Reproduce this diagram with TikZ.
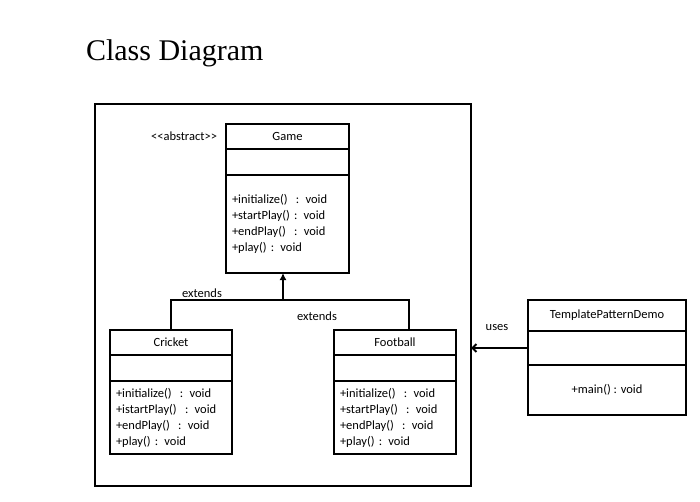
\documentclass[tikz,border=0pt]{standalone}
\usepackage{fontspec}
\setmainfont{Liberation Serif}
\newfontfamily\umlfont{Carlito}
\usetikzlibrary{positioning,arrows.meta}

\begin{document}
\begin{tikzpicture}[x=1pt,y=-1pt,
  every node/.style={font=\umlfont\fontsize{12.5}{16}\selectfont,inner sep=0pt,outer sep=0pt},
  classbox/.style={draw,line width=2pt,minimum width=#1},
  namebox/.style={classbox=#1,minimum height=25pt},
  attrbox/.style={classbox=#1,minimum height=26pt},
  opbox/.style={classbox=#1,inner xsep=6pt,text width=#1-12pt,align=left},
  link/.style={draw,line width=2pt}
  ]
  \useasboundingbox (0,0) rectangle (700,502);
  \node[font=\fontsize{30}{36}\selectfont,anchor=base west] (title) at (86,61) {Class Diagram};
  \node[draw,line width=2pt,minimum width=376pt,minimum height=382pt] (frame) at (283,295) {};

  \node[namebox=123pt] (game) at (287.5,136.5) {Game};
  \node[attrbox=123pt,below=0pt of game] (game_attr) {};
  \node[opbox=123pt,minimum height=98pt,below=0pt of game_attr] (game_ops)
    {+initialize()\ \ : void\\+startPlay() : void\\+endPlay()\ \ : void\\+play() : void};
  \node[left=9pt of game] (abstract) {<<abstract>>};

  \node[namebox=122pt] (cricket) at (171,342.5) {Cricket};
  \node[attrbox=122pt,below=0pt of cricket] (cricket_attr) {};
  \node[opbox=122pt,minimum height=73pt,below=0pt of cricket_attr] (cricket_ops)
    {+initialize()\ \ : void\\+istartPlay()\ \ : void\\+endPlay()\ \ : void\\+play() : void};

  \node[namebox=122pt] (football) at (395,342.5) {Football};
  \node[attrbox=122pt,below=0pt of football] (football_attr) {};
  \node[opbox=122pt,minimum height=73pt,below=0pt of football_attr] (football_ops)
    {+initialize()\ \ : void\\+startPlay()\ \ : void\\+endPlay()\ \ : void\\+play() : void};

  \node[classbox=158pt,minimum height=31pt] (demo) at (607,315.5) {TemplatePatternDemo};
  \node[classbox=158pt,minimum height=34pt,below=0pt of demo] (demo_attr) {};
  \node[classbox=158pt,minimum height=50pt,below=0pt of demo_attr] (demo_ops) {+main() : void};

  \coordinate (junction) at (283,300);
  \path[link] (cricket.north) |- (junction) -| ([xshift=14pt]football.north);
  \path[link,line width=2.5pt,-{Latex[length=7pt,width=7pt]}] (junction) -- (junction |- game_ops.south);
  \path[link,-{Straight Barb[length=4pt,width=8pt]}] (demo_attr.west) -- (demo_attr.west -| frame.east);

  \node (extends_cricket) at (202,293) {extends};
  \node (extends_football) at (317,316) {extends};
  \node (uses) at (497,328) {uses};
\end{tikzpicture}
\end{document}
